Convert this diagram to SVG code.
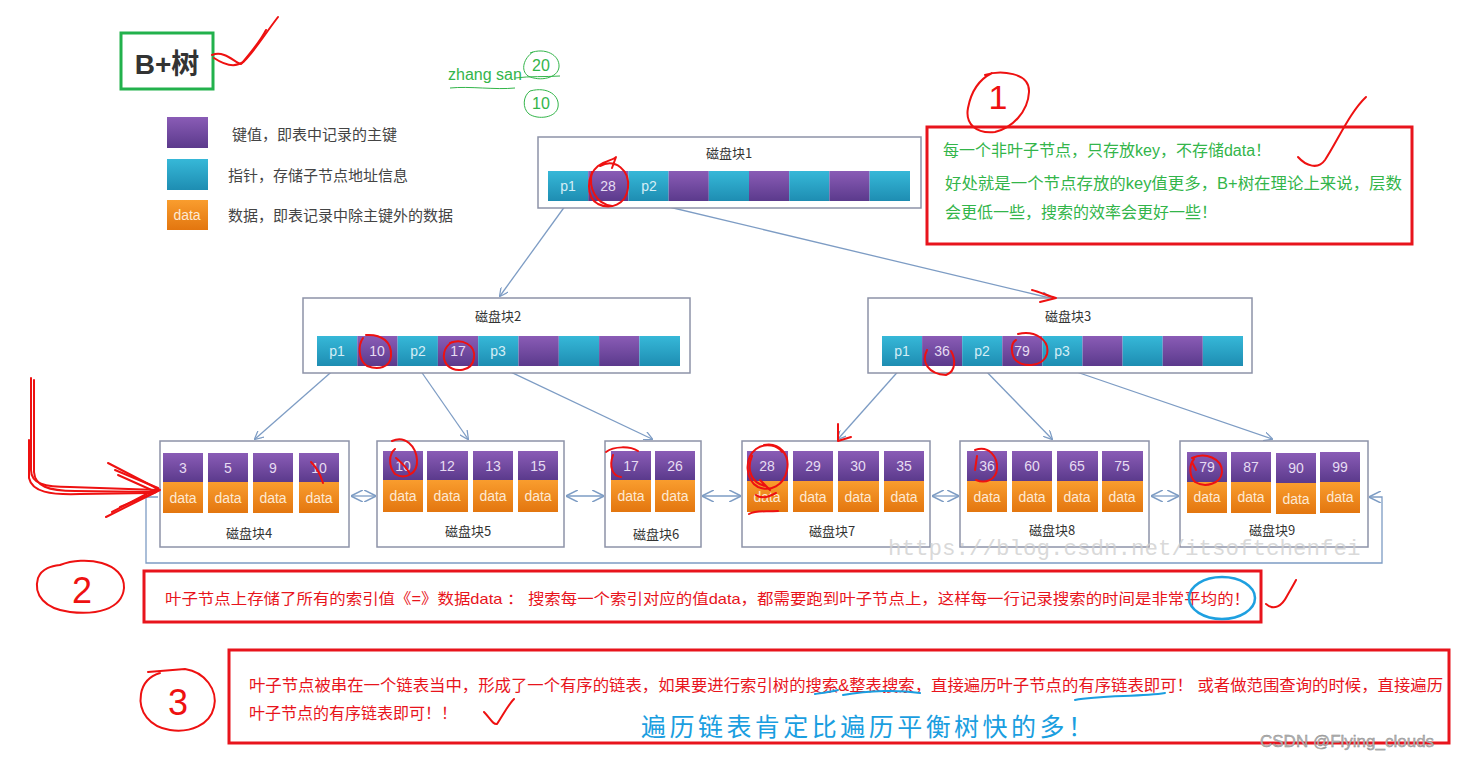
<svg xmlns="http://www.w3.org/2000/svg" width="1466" height="760" viewBox="0 0 1466 760">
<defs>
<linearGradient id="gp" x1="0" y1="0" x2="0" y2="1"><stop offset="0" stop-color="#8a5cb6"/><stop offset="1" stop-color="#5b3a8c"/></linearGradient>
<linearGradient id="gt" x1="0" y1="0" x2="0" y2="1"><stop offset="0" stop-color="#36b8d8"/><stop offset="1" stop-color="#1e8db2"/></linearGradient>
<linearGradient id="go" x1="0" y1="0" x2="0" y2="1"><stop offset="0" stop-color="#f99d2e"/><stop offset="1" stop-color="#e3760f"/></linearGradient>
<marker id="ah" viewBox="0 0 10 10" refX="9" refY="5" markerWidth="9" markerHeight="9" orient="auto-start-reverse" markerUnits="userSpaceOnUse"><path d="M0,0 L10,5 L0,10" fill="none" stroke="#7d9cc4" stroke-width="1.4"/></marker>
<marker id="ah2" viewBox="0 0 10 10" refX="9" refY="5" markerWidth="12" markerHeight="12" orient="auto-start-reverse" markerUnits="userSpaceOnUse"><path d="M0,0 L10,5 L0,10" fill="none" stroke="#7d9cc4" stroke-width="1.2"/></marker>
</defs>
<style>
.bx{fill:#fff;stroke:#8d93a8;stroke-width:1.5}
.p{fill:url(#gp)}
.t{fill:url(#gt)}
.o{fill:url(#go)}
.ct{font-family:"Liberation Sans","Noto Sans CJK SC",sans-serif;font-size:14px;text-anchor:middle;dominant-baseline:central}
.ck{fill:#e6dcf2}
.cp{fill:#d4eef6}
.cd{fill:#fde9d2}
.ttl{font-family:"Noto Sans CJK SC",sans-serif;font-size:13px;fill:#333;text-anchor:middle;dominant-baseline:central}
.leg{font-family:"Noto Sans CJK SC",sans-serif;font-size:15px;fill:#444;dominant-baseline:central}
.cn{fill:none;stroke:#7d9cc4;stroke-width:1.3}
.rb{fill:none;stroke:#e8141c;stroke-width:3}
.rd{fill:none;stroke:#ee1111;stroke-width:2;stroke-linecap:round;stroke-linejoin:round}
.gr{font-family:"Liberation Sans","Noto Sans CJK SC",sans-serif;font-size:16px;fill:#33b54a;dominant-baseline:central}
.rt{font-family:"Liberation Sans","Noto Sans CJK SC",sans-serif;fill:#e8141c;dominant-baseline:central}
.hw{font-family:"Liberation Sans",sans-serif;fill:#ee1111;text-anchor:middle;dominant-baseline:central}
</style>
<rect width="1466" height="760" fill="#fff"/>

<!-- legend -->
<g id="title">
<rect x="121" y="33" width="92" height="56" fill="#fff" stroke="#22b14c" stroke-width="3"/>
<text x="167" y="64" font-family="Liberation Sans,Noto Sans CJK SC,sans-serif" font-size="28" font-weight="bold" fill="#333" text-anchor="middle" dominant-baseline="central">B+树</text>
</g>
<g id="legend">
<rect x="167" y="117" width="41" height="31" class="p"/>
<text x="232" y="133" class="leg">键值，即表中记录的主键</text>
<rect x="167" y="159" width="41" height="31" class="t"/>
<text x="228" y="174" class="leg">指针，存储子节点地址信息</text>
<rect x="167" y="200" width="41" height="30" class="o"/>
<text x="187" y="215" class="ct cd" font-size="13">data</text>
<text x="228" y="214" class="leg">数据，即表记录中除主键外的数据</text>
</g>
<g id="zhangsan">
<text x="448" y="74" class="gr" font-size="17">zhang san</text>
<path d="M450,88 C470,86 495,90 515,88" fill="none" stroke="#33b54a" stroke-width="1"/>
<text x="541" y="65" class="gr" text-anchor="middle">20</text>
<path d="M530,53 C545,47 560,55 559,67 C558,78 540,82 528,76 C520,70 524,58 533,52" fill="none" stroke="#33b54a" stroke-width="1"/>
<path d="M515,78 C530,76 545,77 560,76" fill="none" stroke="#33b54a" stroke-width="1"/>
<text x="541" y="103" class="gr" text-anchor="middle">10</text>
<path d="M530,91 C548,86 560,96 558,107 C556,118 538,120 529,114 C522,108 523,96 530,91" fill="none" stroke="#33b54a" stroke-width="1"/>
</g>

<!-- connectors -->
<g id="connectors">
<line x1="568" y1="202" x2="500" y2="296" class="cn" marker-end="url(#ah)"/>
<line x1="648" y1="202" x2="1050" y2="298" class="cn" marker-end="url(#ah)"/>
<line x1="337" y1="367" x2="255" y2="439" class="cn" marker-end="url(#ah)"/>
<line x1="418" y1="367" x2="468" y2="439" class="cn" marker-end="url(#ah)"/>
<line x1="500" y1="367" x2="652" y2="439" class="cn" marker-end="url(#ah)"/>
<line x1="902" y1="367" x2="838" y2="439" class="cn" marker-end="url(#ah)"/>
<line x1="982" y1="367" x2="1052" y2="439" class="cn" marker-end="url(#ah)"/>
<line x1="1062" y1="367" x2="1272" y2="439" class="cn" marker-end="url(#ah)"/>
<line x1="352" y1="496" x2="375" y2="496" class="cn" marker-start="url(#ah2)" marker-end="url(#ah2)"/>
<line x1="567" y1="496" x2="603" y2="496" class="cn" marker-start="url(#ah2)" marker-end="url(#ah2)"/>
<line x1="703" y1="496" x2="740" y2="496" class="cn" marker-start="url(#ah2)" marker-end="url(#ah2)"/>
<line x1="933" y1="496" x2="958" y2="496" class="cn" marker-start="url(#ah2)" marker-end="url(#ah2)"/>
<line x1="1152" y1="496" x2="1178" y2="496" class="cn" marker-start="url(#ah2)" marker-end="url(#ah2)"/>
<path d="M158,497 L146,497 L146,563 L1382,563 L1382,497 L1370,497" class="cn" marker-end="url(#ah2)"/>
</g>

<!-- disk block 1 -->
<g id="block1">
<rect x="538" y="137" width="383" height="71" class="bx"/>
<text x="729" y="152" class="ttl">磁盘块1</text>
<rect x="548" y="171" width="40.2" height="30" class="t"/>
<rect x="588.2" y="171" width="40.2" height="30" class="p"/>
<rect x="628.4" y="171" width="40.2" height="30" class="t"/>
<rect x="668.6" y="171" width="40.2" height="30" class="p"/>
<rect x="708.8" y="171" width="40.2" height="30" class="t"/>
<rect x="749" y="171" width="40.2" height="30" class="p"/>
<rect x="789.2" y="171" width="40.2" height="30" class="t"/>
<rect x="829.4" y="171" width="40.2" height="30" class="p"/>
<rect x="869.6" y="171" width="40.4" height="30" class="t"/>
<text x="568" y="186" class="ct cp">p1</text>
<text x="608" y="186" class="ct ck" font-size="13">28</text>
<text x="649" y="186" class="ct cp">p2</text>
</g>

<!-- disk block 2 -->
<g id="block2">
<rect x="303" y="298" width="387" height="75" class="bx"/>
<text x="498" y="315" class="ttl">磁盘块2</text>
<rect x="317" y="336" width="40.3" height="30" class="t"/>
<rect x="357.3" y="336" width="40.3" height="30" class="p"/>
<rect x="397.6" y="336" width="40.3" height="30" class="t"/>
<rect x="437.9" y="336" width="40.3" height="30" class="p"/>
<rect x="478.2" y="336" width="40.3" height="30" class="t"/>
<rect x="518.5" y="336" width="40.3" height="30" class="p"/>
<rect x="558.8" y="336" width="40.3" height="30" class="t"/>
<rect x="599.1" y="336" width="40.3" height="30" class="p"/>
<rect x="639.4" y="336" width="40.6" height="30" class="t"/>
<text x="337" y="351" class="ct cp">p1</text>
<text x="377" y="351" class="ct ck" font-size="13">10</text>
<text x="418" y="351" class="ct cp">p2</text>
<text x="458" y="351" class="ct ck" font-size="13">17</text>
<text x="498" y="351" class="ct cp">p3</text>
</g>

<!-- disk block 3 -->
<g id="block3">
<rect x="868" y="298" width="384" height="75" class="bx"/>
<text x="1068" y="315" class="ttl">磁盘块3</text>
<rect x="882" y="336" width="40.1" height="30" class="t"/>
<rect x="922.1" y="336" width="40.1" height="30" class="p"/>
<rect x="962.2" y="336" width="40.1" height="30" class="t"/>
<rect x="1002.3" y="336" width="40.1" height="30" class="p"/>
<rect x="1042.4" y="336" width="40.1" height="30" class="t"/>
<rect x="1082.5" y="336" width="40.1" height="30" class="p"/>
<rect x="1122.6" y="336" width="40.1" height="30" class="t"/>
<rect x="1162.7" y="336" width="40.1" height="30" class="p"/>
<rect x="1202.8" y="336" width="40.2" height="30" class="t"/>
<text x="902" y="351" class="ct cp">p1</text>
<text x="942" y="351" class="ct ck" font-size="13">36</text>
<text x="982" y="351" class="ct cp">p2</text>
<text x="1022" y="351" class="ct ck" font-size="13">79</text>
<text x="1062" y="351" class="ct cp">p3</text>
</g>

<!-- leaf blocks -->
<g id="block4">
<rect x="160" y="441" width="189" height="106" class="bx"/>
<rect x="163" y="453" width="40" height="29" class="p"/><rect x="163" y="482" width="40" height="31" class="o"/>
<rect x="208" y="453" width="40" height="29" class="p"/><rect x="208" y="482" width="40" height="31" class="o"/>
<rect x="253" y="453" width="40" height="29" class="p"/><rect x="253" y="482" width="40" height="31" class="o"/>
<rect x="299" y="453" width="40" height="29" class="p"/><rect x="299" y="482" width="40" height="31" class="o"/>
<text x="183" y="468" class="ct ck" font-size="13">3</text><text x="183" y="498" class="ct cd">data</text>
<text x="228" y="468" class="ct ck" font-size="13">5</text><text x="228" y="498" class="ct cd">data</text>
<text x="273" y="468" class="ct ck" font-size="13">9</text><text x="273" y="498" class="ct cd">data</text>
<text x="319" y="468" class="ct ck" font-size="13">10</text><text x="319" y="498" class="ct cd">data</text>
<text x="249" y="532" class="ttl">磁盘块4</text>
</g>
<g id="block5">
<rect x="377" y="441" width="187" height="106" class="bx"/>
<rect x="383" y="451" width="40" height="29" class="p"/><rect x="383" y="480" width="40" height="32" class="o"/>
<rect x="427" y="451" width="41" height="29" class="p"/><rect x="427" y="480" width="41" height="32" class="o"/>
<rect x="473" y="451" width="40" height="29" class="p"/><rect x="473" y="480" width="40" height="32" class="o"/>
<rect x="518" y="451" width="40" height="29" class="p"/><rect x="518" y="480" width="40" height="32" class="o"/>
<text x="403" y="466" class="ct ck" font-size="13">10</text><text x="403" y="496" class="ct cd">data</text>
<text x="447" y="466" class="ct ck" font-size="13">12</text><text x="447" y="496" class="ct cd">data</text>
<text x="493" y="466" class="ct ck" font-size="13">13</text><text x="493" y="496" class="ct cd">data</text>
<text x="538" y="466" class="ct ck" font-size="13">15</text><text x="538" y="496" class="ct cd">data</text>
<text x="468" y="530" class="ttl">磁盘块5</text>
</g>
<g id="block6">
<rect x="605" y="441" width="96" height="106" class="bx"/>
<rect x="611" y="451" width="40" height="29" class="p"/><rect x="611" y="480" width="40" height="32" class="o"/>
<rect x="655" y="451" width="40" height="29" class="p"/><rect x="655" y="480" width="40" height="32" class="o"/>
<text x="631" y="466" class="ct ck" font-size="13">17</text><text x="631" y="496" class="ct cd">data</text>
<text x="675" y="466" class="ct ck" font-size="13">26</text><text x="675" y="496" class="ct cd">data</text>
<text x="656" y="533" class="ttl">磁盘块6</text>
</g>
<g id="block7">
<rect x="742" y="441" width="188" height="106" class="bx"/>
<rect x="747" y="451" width="41" height="30" class="p"/><rect x="747" y="481" width="41" height="31" class="o"/>
<rect x="793" y="451" width="40" height="30" class="p"/><rect x="793" y="481" width="40" height="31" class="o"/>
<rect x="838" y="451" width="41" height="30" class="p"/><rect x="838" y="481" width="41" height="31" class="o"/>
<rect x="884" y="451" width="40" height="30" class="p"/><rect x="884" y="481" width="40" height="31" class="o"/>
<text x="767" y="466" class="ct ck" font-size="13">28</text><text x="767" y="497" class="ct cd">data</text>
<text x="813" y="466" class="ct ck" font-size="13">29</text><text x="813" y="497" class="ct cd">data</text>
<text x="858" y="466" class="ct ck" font-size="13">30</text><text x="858" y="497" class="ct cd">data</text>
<text x="904" y="466" class="ct ck" font-size="13">35</text><text x="904" y="497" class="ct cd">data</text>
<text x="832" y="530" class="ttl">磁盘块7</text>
</g>
<g id="block8">
<rect x="960" y="441" width="189" height="106" class="bx"/>
<rect x="967" y="451" width="40" height="30" class="p"/><rect x="967" y="481" width="40" height="31" class="o"/>
<rect x="1012" y="451" width="40" height="30" class="p"/><rect x="1012" y="481" width="40" height="31" class="o"/>
<rect x="1057" y="451" width="41" height="30" class="p"/><rect x="1057" y="481" width="41" height="31" class="o"/>
<rect x="1102" y="451" width="41" height="30" class="p"/><rect x="1102" y="481" width="41" height="31" class="o"/>
<text x="987" y="466" class="ct ck" font-size="13">36</text><text x="987" y="497" class="ct cd">data</text>
<text x="1032" y="466" class="ct ck" font-size="13">60</text><text x="1032" y="497" class="ct cd">data</text>
<text x="1077" y="466" class="ct ck" font-size="13">65</text><text x="1077" y="497" class="ct cd">data</text>
<text x="1122" y="466" class="ct ck" font-size="13">75</text><text x="1122" y="497" class="ct cd">data</text>
<text x="1052" y="529" class="ttl">磁盘块8</text>
</g>
<g id="block9">
<rect x="1180" y="441" width="188" height="106" class="bx"/>
<rect x="1187" y="452" width="40" height="30" class="p"/><rect x="1187" y="482" width="40" height="31" class="o"/>
<rect x="1231" y="452" width="40" height="30" class="p"/><rect x="1231" y="482" width="40" height="31" class="o"/>
<rect x="1276" y="453" width="40" height="30" class="p"/><rect x="1276" y="483" width="40" height="31" class="o"/>
<rect x="1320" y="452" width="40" height="30" class="p"/><rect x="1320" y="482" width="40" height="31" class="o"/>
<text x="1207" y="467" class="ct ck" font-size="13">79</text><text x="1207" y="497" class="ct cd">data</text>
<text x="1251" y="467" class="ct ck" font-size="13">87</text><text x="1251" y="497" class="ct cd">data</text>
<text x="1296" y="468" class="ct ck" font-size="13">90</text><text x="1296" y="499" class="ct cd">data</text>
<text x="1340" y="467" class="ct ck" font-size="13">99</text><text x="1340" y="497" class="ct cd">data</text>
<text x="1272" y="529" class="ttl">磁盘块9</text>
</g>

<text x="888" y="555" font-family="Liberation Mono,monospace" font-size="22.5" fill="#cfcfcf" fill-opacity="0.8">https://blog.csdn.net/itsoftchenfei</text>

<!-- note 1 -->
<g id="note1">
<rect x="927" y="127" width="485" height="117" class="rb"/>
<text x="943" y="150" class="gr">每一个非叶子节点，只存放key，不存储data！</text>
<text x="945" y="183" class="gr" textLength="457" lengthAdjust="spacingAndGlyphs">好处就是一个节点存放的key值更多，B+树在理论上来说，层数</text>
<text x="945" y="212" class="gr">会更低一些，搜索的效率会更好一些！</text>
</g>
<!-- note 2 -->
<g id="note2">
<rect x="144" y="571" width="1117" height="51" class="rb"/>
<text x="165" y="598" class="rt" font-size="15" textLength="1085" lengthAdjust="spacingAndGlyphs">叶子节点上存储了所有的索引值《=》数据data ： 搜索每一个索引对应的值data，都需要跑到叶子节点上，这样每一行记录搜索的时间是非常平均的！</text>
</g>
<!-- note 3 -->
<g id="note3">
<rect x="229" y="650" width="1220" height="93" class="rb"/>
<text x="249" y="685" class="rt" font-size="16" textLength="1194" lengthAdjust="spacingAndGlyphs">叶子节点被串在一个链表当中，形成了一个有序的链表，如果要进行索引树的搜索&amp;整表搜索，直接遍历叶子节点的有序链表即可！ 或者做范围查询的时候，直接遍历</text>
<text x="249" y="713" class="rt" font-size="16">叶子节点的有序链表即可！！</text>
<text x="641" y="727" font-family="Liberation Serif,Noto Sans CJK SC,serif" font-size="25" fill="#1a9ee0" dominant-baseline="central" textLength="452" lengthAdjust="spacing">遍历链表肯定比遍历平衡树快的多！</text>
</g>

<text x="1260" y="741" font-family="Liberation Sans,sans-serif" font-size="17" fill="#b5b5b5" stroke="#8a8a8a" stroke-width="0.4" dominant-baseline="central">CSDN @Flying_clouds</text>

<!-- hand-drawn annotations -->
<g id="annotations">
<path class="rd" d="M212,55 C225,50 235,63 241,64 C252,55 262,38 278,17"/>
<path class="rd" d="M214,58 C226,66 236,67 243,62 C253,50 262,38 266,30"/>
<path class="rd" d="M985,75 C1000,70 1030,72 1029,92 C1028,112 1012,128 995,132 C976,134 965,124 968,108 C971,92 978,80 992,73"/>
<text x="998" y="97" class="hw" font-size="34">1</text>
<path class="rd" d="M1298,157 C1306,166 1318,170 1325,160 C1338,140 1350,112 1366,97"/>
<path class="rd" stroke-width="2.5" d="M600,166 C615,158 630,170 628,188 C626,205 610,210 598,204 C586,197 586,176 598,166 C606,160 614,160 616,157 L612,168"/>
<path class="rd" d="M592,172 C588,188 596,204 612,206"/>
<path class="rd" d="M366,335 C382,334 392,342 391,356 C390,368 378,370 367,366 C358,360 358,345 363,338"/>
<path class="rd" d="M450,343 C462,338 476,345 474,358 C472,372 455,373 447,365 C441,357 444,347 452,342"/>
<path class="rd" d="M927,350 C921,362 928,374 946,375 C957,371 955,358 951,351"/>
<path class="rd" d="M1018,334 C1035,330 1050,340 1047,354 C1043,368 1020,368 1014,358 C1010,350 1012,342 1016,340"/>
<path class="rd" stroke-width="5" d="M1032,290 C1040,292 1048,296 1056,298 L1040,302"/>
<path class="rd" stroke-width="2.5" d="M838,424 L838,441 L851,437"/>
<path class="rd" d="M311,462 C316,467 320,473 323,483"/>
<path class="rd" d="M392,441 C405,435 416,446 417,460 C418,474 405,480 395,474 C388,466 389,454 395,449"/>
<path class="rd" d="M396,458 C402,463 407,468 410,474"/>
<path class="rd" d="M606,452 C614,446 630,446 638,451"/>
<path class="rd" d="M613,455 C609,466 612,476 621,477"/>
<path class="rd" stroke-width="2.5" d="M764,445 C780,442 790,455 787,470 C784,486 770,492 758,487 C745,480 744,458 756,449 C766,442 778,446 782,452"/>
<path class="rd" stroke-width="2" d="M752,456 C746,470 752,484 766,486 M760,480 L770,490 M756,495 C762,500 770,496 776,493"/>
<path class="rd" stroke-width="3" d="M749,514 C756,510 765,512 778,511"/>
<path class="rd" d="M975,450 C989,445 998,457 997,469 C996,480 985,484 976,480 M977,456 L975,470"/>
<path class="rd" d="M1192,458 C1205,452 1222,458 1222,472 C1221,484 1205,488 1195,482 C1189,476 1189,465 1194,459 M1192,462 L1196,470"/>
<path class="rd" d="M31,378 L31,470 C31,484 45,487 70,487 L158,490"/>
<path class="rd" d="M34,380 L34,472 C35,486 48,491 75,491 L155,492"/>
<path class="rd" d="M29,440 L29,478 C32,492 50,495 80,494 L150,493"/>
<path class="rd" d="M108,463 L160,490 L106,517"/>
<path class="rd" d="M115,470 L158,488 L112,512"/>
<path class="rd" d="M118,475 L156,492 L120,507"/>
<path class="rd" d="M60,565 C85,555 125,562 124,588 C122,610 95,615 70,612 C45,609 33,595 38,578 C42,568 52,566 60,565"/>
<text x="82" y="590" class="hw" font-size="36">2</text>
<ellipse cx="1222" cy="598" rx="33" ry="21" fill="none" stroke="#1ea0e0" stroke-width="2.5"/>
<path class="rd" d="M1266,604 C1274,611 1282,606 1287,596 C1291,589 1294,584 1296,580"/>
<path class="rd" d="M148,672 L185,669 C205,672 218,690 214,707 C210,725 190,733 170,730 C150,727 138,712 141,694 C143,682 150,676 160,673"/>
<text x="178" y="702" class="hw" font-size="36">3</text>
<path class="rd" d="M484,712 C490,718 493,725 497,724 C503,715 508,705 514,699"/>
<path fill="none" stroke="#1a9ee0" stroke-width="2" stroke-linecap="round" d="M815,694 C822,693 830,692 838,690 M843,695 C870,690 900,690 920,693 M1075,700 C1100,695 1140,697 1165,693"/>
</g>
</svg>
